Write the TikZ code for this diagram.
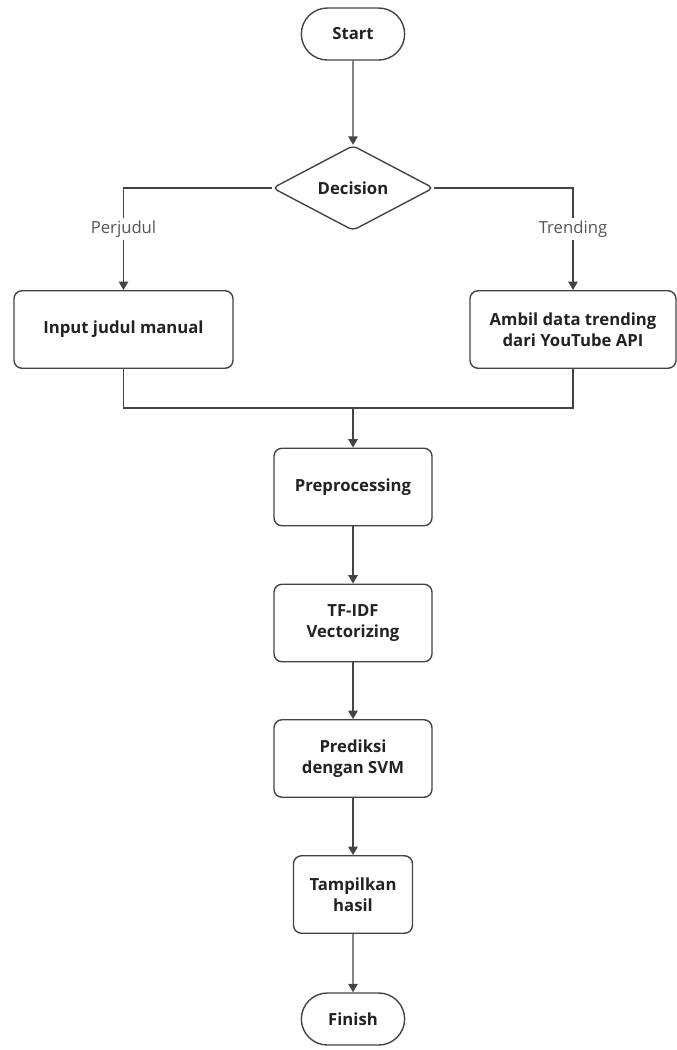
\documentclass[tikz,border=0pt]{standalone}
\usepackage{fontspec}
\setmainfont{Open Sans}
\usetikzlibrary{arrows.meta,positioning,shapes.geometric,shapes.misc}

\definecolor{linegray}{HTML}{444444}
\definecolor{textgray}{HTML}{222222}
\definecolor{labelgray}{HTML}{555555}

\begin{document}
\begin{tikzpicture}[
		line width=0.8pt,
		flow/.style={draw=linegray, -{Triangle[length=1.7mm,width=1.9mm]}},
		link/.style={draw=linegray},
		terminal/.style={rounded rectangle, draw=linegray, minimum width=2.3cm, minimum height=1.04cm, font=\fontsize{9.5}{11}\selectfont\bfseries, text=textgray},
		process/.style={rectangle, rounded corners=1.6mm, draw=linegray, minimum height=1.55cm, align=center, font=\fontsize{9.5}{12}\selectfont\bfseries, text=textgray},
		choice/.style={diamond, draw=linegray, rounded corners=1mm, minimum width=3.22cm, minimum height=1.7cm, inner sep=0pt, font=\fontsize{9.5}{11}\selectfont\bfseries, text=textgray},
		branch/.style={fill=white, inner sep=1.5pt, font=\fontsize{9.5}{11}\selectfont, text=labelgray}]
		\useasboundingbox (0,0) rectangle (13.54,-21);

		\node[terminal] (start) at (7.06,-0.68) {Start};
		\node[choice] (decision) at (7.06,-3.76) {Decision};
		\node[process, minimum width=4.38cm] (manual) at (2.47,-6.59) {Input judul manual};
		\node[process, minimum width=4.12cm] (trending) at (11.46,-6.59) {Ambil data trending\\dari YouTube API};
		\coordinate (join) at (7.06,-8.16);
		\node[process, minimum width=3.16cm] (prep) at (7.06,-9.74) {Preprocessing};
		\node[process, minimum width=3.16cm] (tfidf) at (7.06,-12.46) {TF-IDF\\Vectorizing};
		\node[process, minimum width=3.16cm] (svm) at (7.06,-15.17) {Prediksi\\dengan SVM};
		\node[process, minimum width=2.38cm] (hasil) at (7.06,-17.89) {Tampilkan\\hasil};
		\node[terminal] (finish) at (7.06,-20.38) {Finish};

		\draw[flow] (start) -- (decision);
		\draw[flow] (decision.west) -| (manual.north) node[branch, pos=0.7] (perjudul) {Perjudul};
		\draw[flow] (decision.east) -| (trending.north) node[branch, pos=0.7] (trend) {Trending};

		\draw[link] (manual.south) |- (join);
		\draw[link] (trending.south) |- (join);
		\draw[flow] (join) -- (prep);

		\draw[flow] (prep) -- (tfidf);
		\draw[flow] (tfidf) -- (svm);
		\draw[flow] (svm) -- (hasil);
		\draw[flow] (hasil) -- (finish);
	\end{tikzpicture}
\end{document}
